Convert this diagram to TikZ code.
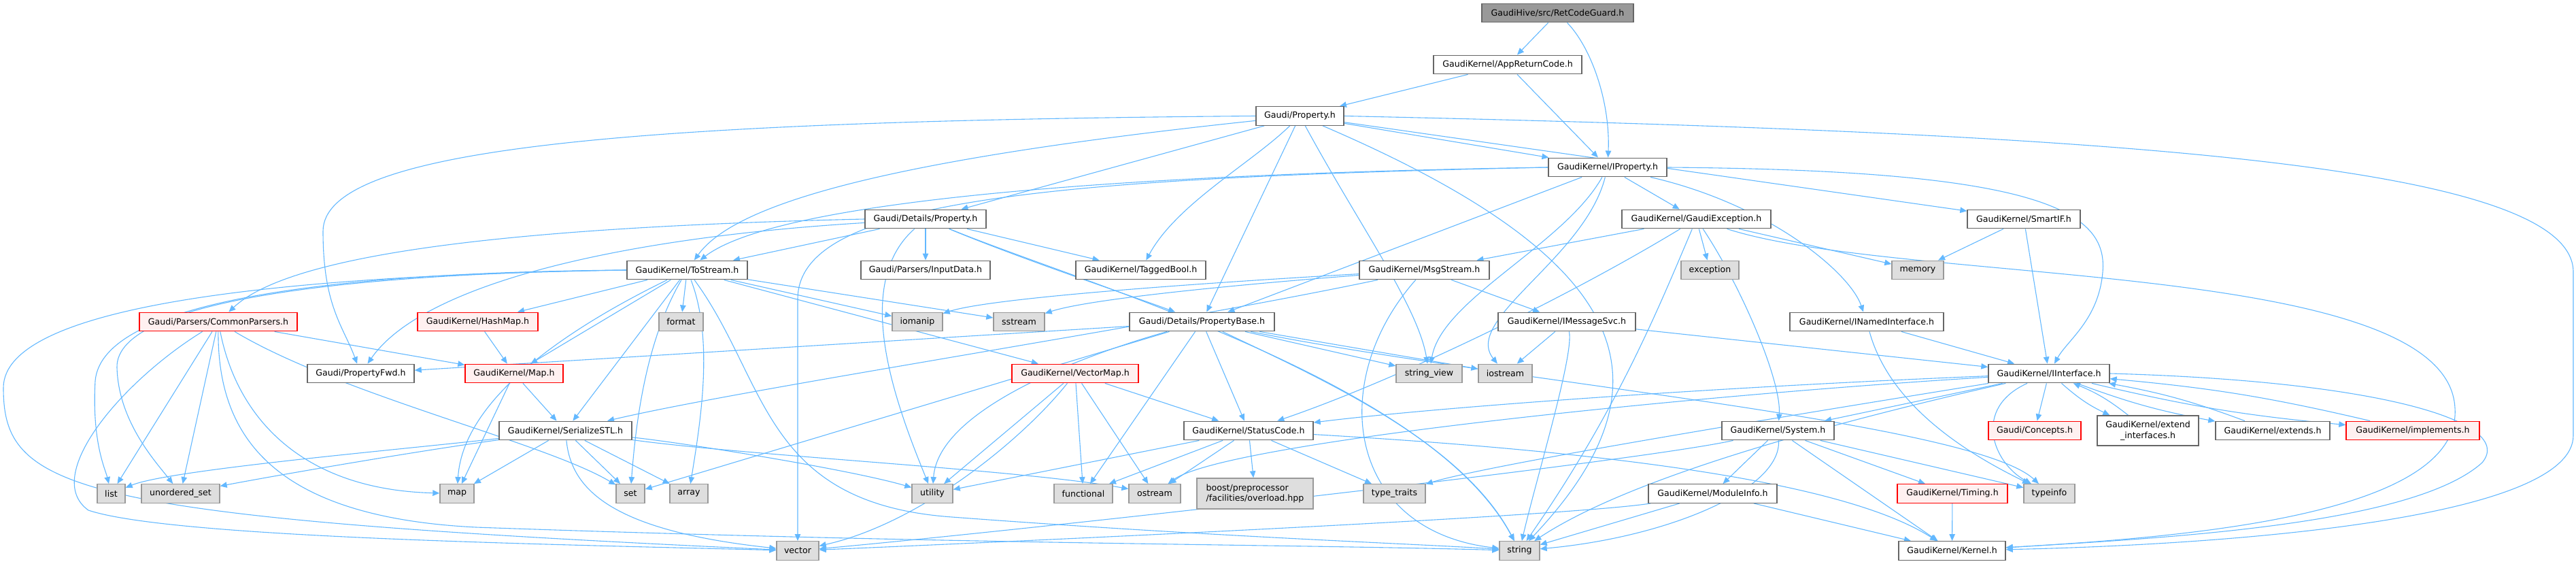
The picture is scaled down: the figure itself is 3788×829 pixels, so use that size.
\documentclass[tikz,border=0pt]{standalone}
\usepackage{fontspec}
\setmainfont{DejaVu Sans}
\usetikzlibrary{arrows.meta,backgrounds,calc}
\definecolor{edgec}{HTML}{63B8FF}
\definecolor{bgray}{HTML}{666666}
\definecolor{egray}{HTML}{999999}
\definecolor{efill}{HTML}{DEDEDE}
\definecolor{rfill}{HTML}{FFF0F0}
\definecolor{rootfill}{HTML}{999999}
\begin{document}
\begin{tikzpicture}[x=1pt,y=-1pt,
 box/.style={draw=bgray,fill=white,line width=1.4pt,minimum height=27.5pt,inner sep=0pt,font=\fontsize{12.6}{15.5}\selectfont,text=black},
 ext/.style={box,draw=egray,fill=efill},
 trunc/.style={box,draw=red,fill=rfill},
 rootbox/.style={box,draw=bgray,fill=rootfill},
 edge/.style={draw=edgec,line width=1.1pt,-{Triangle[length=10pt,width=8.5pt]}}
]
\useasboundingbox (0,0) rectangle (3788,829);
% row 1-4
\node[rootbox,minimum width=223pt] (root) at (2290.5,19) {GaudiHive/src/RetCodeGuard.h};
\node[box,minimum width=218pt] (app) at (2217,95) {GaudiKernel/AppReturnCode.h};
\node[box,minimum width=129pt] (prop) at (1911.5,170.5) {Gaudi/Property.h};
\node[box,minimum width=174pt] (iprop) at (2364,246) {GaudiKernel/IProperty.h};
% row 5
\node[box,minimum width=178pt] (detprop) at (1361,322) {Gaudi/Details/Property.h};
\node[box,minimum width=219pt] (gexc) at (2494.5,322) {GaudiKernel/GaudiException.h};
\node[box,minimum width=166pt] (smartif) at (2976,322) {GaudiKernel/SmartIF.h};
% row 6
\node[box,minimum width=177pt] (tostream) at (1010.5,397) {GaudiKernel/ToStream.h};
\node[box,minimum width=190pt] (inputdata) at (1361,397) {Gaudi/Parsers/InputData.h};
\node[box,minimum width=191pt] (taggedbool) at (1677.5,397) {GaudiKernel/TaggedBool.h};
\node[box,minimum width=191pt] (msgstream) at (2094.5,397) {GaudiKernel/MsgStream.h};
\node[ext,minimum width=85pt] (nexception) at (2514.5,397) {exception};
\node[ext,minimum width=76pt] (nmemory) at (2820,397) {memory};
% row 7
\node[trunc,minimum width=232pt] (commonparsers) at (321,473) {Gaudi/Parsers/CommonParsers.h};
\node[trunc,minimum width=177pt] (hashmap) at (702.5,473) {GaudiKernel/HashMap.h};
\node[ext,minimum width=65pt] (nformat) at (1001.5,473) {format};
\node[ext,minimum width=74pt] (niomanip) at (1349,473) {iomanip};
\node[ext,minimum width=75pt] (nsstream) at (1498.5,473) {sstream};
\node[box,minimum width=213pt] (propbase) at (1767.5,473) {Gaudi/Details/PropertyBase.h};
\node[box,minimum width=202pt] (imsgsvc) at (2304,473) {GaudiKernel/IMessageSvc.h};
\node[box,minimum width=226pt] (inamed) at (2745,473) {GaudiKernel/INamedInterface.h};
% row 8
\node[box,minimum width=157pt] (propfwd) at (530.5,549) {Gaudi/PropertyFwd.h};
\node[trunc,minimum width=144pt] (kmap) at (756,549) {GaudiKernel/Map.h};
\node[trunc,minimum width=186pt] (vectormap) at (1581,549) {GaudiKernel/VectorMap.h};
\node[ext,minimum width=97pt] (nstringview) at (2101.5,549) {string\_view};
\node[ext,minimum width=79pt] (niostream) at (2213.5,549) {iostream};
\node[box,minimum width=178pt] (iinterface) at (3013,549) {GaudiKernel/IInterface.h};
% row 9
\node[box,minimum width=195pt] (serial) at (831.5,633) {GaudiKernel/SerializeSTL.h};
\node[box,minimum width=190pt] (statuscode) at (1836,633) {GaudiKernel/StatusCode.h};
\node[box,minimum width=165pt] (system) at (2614.5,633) {GaudiKernel/System.h};
\node[trunc,minimum width=136pt] (concepts) at (2992,633) {Gaudi/Concepts.h};
\node[box,minimum width=149pt,minimum height=44pt,align=center] (extendif) at (3158.5,633) {GaudiKernel/extend\\\_interfaces.h};
\node[box,minimum width=168pt] (extends) at (3342,633) {GaudiKernel/extends.h};
\node[trunc,minimum width=196pt] (implements) at (3548,633) {GaudiKernel/implements.h};
% row 10
\node[ext,minimum width=41pt] (nlist) at (163.5,725.5) {list};
\node[ext,minimum width=115pt] (nuset) at (265.5,725.5) {unordered\_set};
\node[ext,minimum width=50pt] (nmap) at (672,725.5) {map};
\node[ext,minimum width=42pt] (nset) at (927,725.5) {set};
\node[ext,minimum width=56pt] (narray) at (1013,725.5) {array};
\node[ext,minimum width=60pt] (nutility) at (1371,725.5) {utility};
\node[ext,minimum width=86pt] (nfunctional) at (1593,725.5) {functional};
\node[ext,minimum width=76pt] (nostream) at (1698,725.5) {ostream};
\node[ext,minimum width=171pt,minimum height=45pt,align=left] (nboost) at (1845.5,725.5) {boost/preprocessor\\/facilities/overload.hpp};
\node[ext,minimum width=91pt] (ntypetraits) at (2050.5,725.5) {type\_traits};
\node[box,minimum width=189pt] (moduleinfo) at (2518.5,725.5) {GaudiKernel/ModuleInfo.h};
\node[trunc,minimum width=162pt] (timing) at (2871,725.5) {GaudiKernel/Timing.h};
\node[ext,minimum width=75pt] (ntypeinfo) at (3013.5,725.5) {typeinfo};
% row 11
\node[ext,minimum width=62pt] (nvector) at (1173,809.5) {vector};
\node[ext,minimum width=59pt] (nstring) at (2234.5,809.5) {string};
\node[box,minimum width=157pt] (kernel) at (2870.5,809.5) {GaudiKernel/Kernel.h};

\begin{pgfonlayer}{background}
% root, app
\draw[edge] (root) -- (app);
\draw[edge] (root) .. controls (2340,70) and (2368,150) .. (iprop);
\draw[edge] (app) -- (prop);
\draw[edge] (app) -- (iprop);
% Gaudi/Property.h
\draw[edge] (prop) -- (iprop);
\draw[edge] (prop) -- (detprop);
\draw[edge] (prop) .. controls (1840,240) and (1730,300) .. (taggedbool);
\draw[edge] (prop) -- (propbase);
\draw[edge] (prop) -- (smartif);
\draw[edge] (prop.east) .. controls (3100,195) and (3784,240) .. (3784,400) -- (3784,640) .. controls (3784,760) and (3300,800) .. (kernel);
\draw[edge] (prop) .. controls (1300,235) and (1080,300) .. (tostream);
\draw[edge] (prop.west) .. controls (900,178) and (475,220) .. (475,340) .. controls (475,450) and (505,480) .. (propfwd);
\draw[edge] (prop) .. controls (1998,330) and (2085,450) .. (nstringview);
\draw[edge] (prop) .. controls (2400,380) and (2470,560) .. (nstring);
% IProperty
\draw[edge] (iprop) -- (gexc);
\draw[edge] (iprop) .. controls (2600,300) and (2720,400) .. (inamed);
\draw[edge] (iprop.east) .. controls (3000,250) and (3100,310) .. (3092,400) .. controls (3086,470) and (3040,500) .. (iinterface);
\draw[edge] (iprop.west) .. controls (1700,255) and (1150,290) .. (tostream);
\draw[edge] (iprop.west) .. controls (1500,262) and (1173,300) .. (1173,440) -- (nvector);
\draw[edge] (iprop) -- (propbase);
\draw[edge] (iprop) .. controls (2300,360) and (2120,440) .. (nstringview);
\draw[edge] (iprop) .. controls (2330,380) and (2150,470) .. (niostream);
% Details/Property
\draw[edge] (detprop) -- (inputdata);
\draw[edge] (detprop) -- (taggedbool);
\draw[edge] (detprop) .. controls (1500,380) and (1650,430) .. (propbase);
\draw[edge] (detprop) -- (tostream);
\draw[edge] (detprop.west) .. controls (700,335) and (420,380) .. (commonparsers);
\draw[edge] (detprop) .. controls (900,350) and (620,420) .. (propfwd);
\draw[edge] (detprop) .. controls (1250,420) and (1320,600) .. (nutility);
\draw[edge] (detprop) .. controls (1600,420) and (2100,560) .. (nstring);
% PropertyBase
\draw[edge] (propbase) -- (propfwd);
\draw[edge] (propbase) -- (statuscode);
\draw[edge] (propbase) -- (nfunctional);
\draw[edge] (propbase) .. controls (1600,520) and (1380,600) .. (nutility);
\draw[edge] (propbase) -- (nstringview);
\draw[edge] (propbase) -- (niostream);
\draw[edge] (propbase) .. controls (1950,560) and (2150,650) .. (nstring);
\draw[edge] (propbase) -- (nset);
\draw[edge] (propbase) .. controls (2200,560) and (2900,620) .. (ntypeinfo);
% GaudiException
\draw[edge] (gexc) -- (msgstream);
\draw[edge] (gexc) -- (nexception);
\draw[edge] (gexc) -- (nmemory);
\draw[edge] (gexc) .. controls (2300,440) and (2050,560) .. (statuscode);
\draw[edge] (gexc) .. controls (2440,450) and (2380,600) .. (nstring);
\draw[edge] (gexc) .. controls (2560,420) and (2620,560) .. (system);
\draw[edge] (gexc) .. controls (2800,420) and (3600,380) .. (3610,600) .. controls (3620,760) and (3200,790) .. (kernel);
% SmartIF
\draw[edge] (smartif) -- (iinterface);
\draw[edge] (smartif) -- (nmemory);
% ToStream
\draw[edge] (tostream) -- (hashmap);
\draw[edge] (tostream) -- (nformat);
\draw[edge] (tostream) -- (kmap);
\draw[edge] (tostream) -- (serial);
\draw[edge] (tostream) .. controls (950,500) and (935,620) .. (nset);
\draw[edge] (tostream) .. controls (1050,500) and (1030,620) .. (narray);
\draw[edge] (tostream) -- (vectormap);
\draw[edge] (tostream) -- (niomanip);
\draw[edge] (tostream) -- (nsstream);
\draw[edge] (tostream.west) .. controls (500,400) and (150,440) .. (140,560) .. controls (135,650) and (155,690) .. (nlist);
\draw[edge] (tostream.west) .. controls (520,402) and (170,440) .. (172,540) .. controls (174,620) and (230,680) .. (nuset);
\draw[edge] (tostream) .. controls (800,500) and (680,600) .. (nmap);
\draw[edge] (tostream.west) .. controls (400,405) and (5,450) .. (5,570) .. controls (5,720) and (100,760) .. (nvector);
\draw[edge] (tostream) .. controls (1130,560) and (1120,740) .. (1400,760) .. controls (1800,790) and (2100,800) .. (nstring);
% CommonParsers
\draw[edge] (commonparsers) -- (nlist);
\draw[edge] (commonparsers) -- (nuset);
\draw[edge] (commonparsers) -- (kmap);
\draw[edge] (commonparsers) .. controls (350,620) and (450,720) .. (nmap);
\draw[edge] (commonparsers) .. controls (500,580) and (800,650) .. (nset);
\draw[edge] (commonparsers) .. controls (180,560) and (60,700) .. (130,750) .. controls (250,790) and (800,800) .. (nvector);
\draw[edge] (commonparsers) .. controls (320,640) and (400,760) .. (700,775) .. controls (1400,800) and (1900,800) .. (nstring);
% others
\draw[edge] (hashmap) -- (kmap);
\draw[edge] (kmap) -- (serial);
\draw[edge] (kmap) -- (nmap);
\draw[edge] (vectormap) -- (statuscode);
\draw[edge] (vectormap) -- (nutility);
\draw[edge] (vectormap) -- (nfunctional);
\draw[edge] (vectormap) -- (nostream);
\draw[edge] (vectormap) .. controls (1500,650) and (1350,770) .. (nvector);
\draw[edge] (msgstream) -- (imsgsvc);
\draw[edge] (msgstream) .. controls (1700,480) and (1100,570) .. (serial);
\draw[edge] (msgstream) .. controls (1700,420) and (1450,440) .. (niomanip);
\draw[edge] (msgstream) .. controls (1800,420) and (1600,440) .. (nsstream);
\draw[edge] (msgstream) .. controls (1950,560) and (1980,780) .. (nstring);
\draw[edge] (imsgsvc) -- (niostream);
\draw[edge] (imsgsvc) .. controls (2315,520) and (2260,700) .. (nstring);
\draw[edge] (imsgsvc) -- (iinterface);
\draw[edge] (inamed) -- (iinterface);
\draw[edge] (inamed) .. controls (2780,600) and (2900,670) .. (ntypeinfo);
% IInterface
\draw[edge] (iinterface) -- (concepts);
\draw[edge] (iinterface) -- (system);
\draw[edge] (iinterface) .. controls (2500,570) and (2100,600) .. (statuscode);
\draw[edge] (iinterface) to[bend right=8] (extendif);
\draw[edge] (extendif) to[bend right=8] (iinterface);
\draw[edge] (iinterface) to[bend right=5] (extends);
\draw[edge] (extends) to[bend right=5] (iinterface);
\draw[edge] (iinterface) to[bend right=4] (implements);
\draw[edge] (implements) to[bend right=4] (iinterface);
\draw[edge] (iinterface) .. controls (2900,600) and (2930,680) .. (ntypeinfo);
\draw[edge] (iinterface) .. controls (2700,600) and (2200,680) .. (ntypetraits);
\draw[edge] (iinterface.east) .. controls (3500,560) and (3700,620) .. (3650,680) .. controls (3550,770) and (3200,790) .. (kernel);
\draw[edge] (iinterface) .. controls (2500,580) and (1800,650) .. (nostream);
\draw[edge] (iinterface) .. controls (2700,620) and (2400,700) .. (nstring);
% SerializeSTL
\draw[edge] (serial) .. controls (600,660) and (250,690) .. (nlist);
\draw[edge] (serial) .. controls (600,665) and (400,700) .. (nuset);
\draw[edge] (serial) -- (nmap);
\draw[edge] (serial) -- (nset);
\draw[edge] (serial) -- (narray);
\draw[edge] (serial) .. controls (840,720) and (900,780) .. (nvector);
\draw[edge] (serial) .. controls (1000,650) and (1250,690) .. (nutility);
\draw[edge] (serial) .. controls (1100,670) and (1500,690) .. (nostream);
% StatusCode
\draw[edge] (statuscode) -- (nboost);
\draw[edge] (statuscode) -- (nfunctional);
\draw[edge] (statuscode) -- (nostream);
\draw[edge] (statuscode) -- (ntypetraits);
\draw[edge] (statuscode) -- (nutility);
\draw[edge] (statuscode) .. controls (2300,660) and (2700,700) .. (kernel);
% System
\draw[edge] (system) -- (moduleinfo);
\draw[edge] (system) -- (timing);
\draw[edge] (system) -- (kernel);
\draw[edge] (system) -- (ntypeinfo);
\draw[edge] (system) .. controls (2620,720) and (2450,790) .. (nstring);
\draw[edge] (system) .. controls (2400,680) and (1500,780) .. (nvector);
\draw[edge] (moduleinfo) -- (kernel);
\draw[edge] (moduleinfo) -- (nstring);
\draw[edge] (moduleinfo) .. controls (2300,760) and (1400,800) .. (nvector);
\draw[edge] (timing) -- (kernel);
\end{pgfonlayer}
\end{tikzpicture}
\end{document}
